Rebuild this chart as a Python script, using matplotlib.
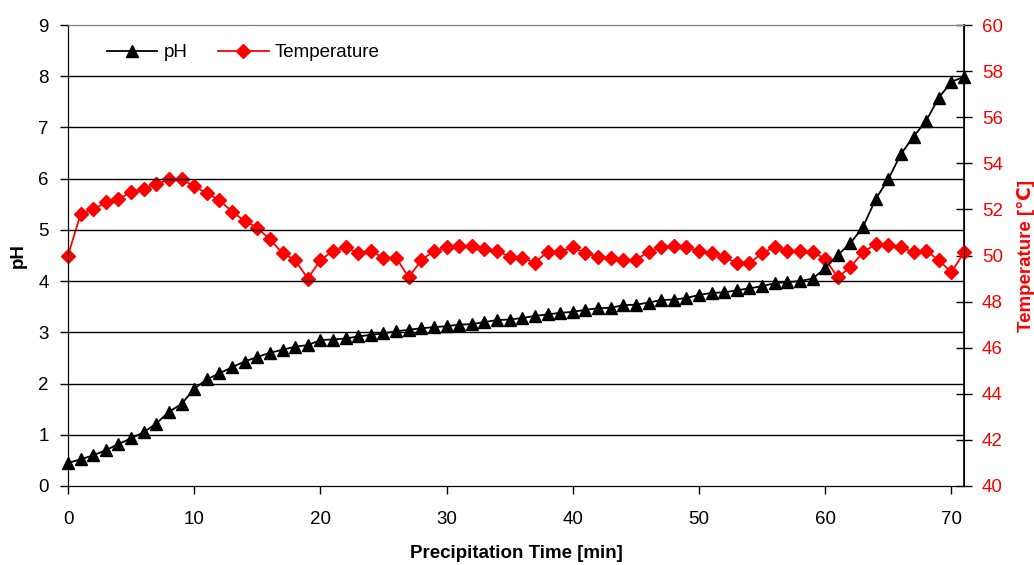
import matplotlib.pyplot as plt
import numpy as np

# ---------------- data ----------------
time_min = list(range(72))

ph = [0.45, 0.52, 0.60, 0.70, 0.82, 0.93, 1.05, 1.22, 1.45, 1.60,
      1.90, 2.08, 2.20, 2.32, 2.43, 2.52, 2.60, 2.66, 2.72, 2.75,
      2.85, 2.86, 2.88, 2.92, 2.95, 2.98, 3.02, 3.05, 3.08, 3.10,
      3.12, 3.15, 3.16, 3.20, 3.24, 3.25, 3.28, 3.32, 3.35, 3.38,
      3.40, 3.44, 3.47, 3.48, 3.53, 3.54, 3.58, 3.63, 3.64, 3.67,
      3.73, 3.77, 3.78, 3.82, 3.86, 3.90, 3.96, 3.98, 4.00, 4.05,
      4.25, 4.51, 4.74, 5.06, 5.60, 5.99, 6.48, 6.82, 7.13, 7.58,
      7.89, 7.99]

temperature = [50.0, 51.8, 52.0, 52.3, 52.45, 52.75, 52.9, 53.1, 53.3, 53.3,
               53.0, 52.7, 52.4, 51.9, 51.5, 51.2, 50.7, 50.1, 49.8, 49.0,
               49.8, 50.2, 50.35, 50.1, 50.2, 49.9, 49.9, 49.05, 49.8, 50.2,
               50.35, 50.4, 50.4, 50.3, 50.2, 49.95, 49.9, 49.68, 50.17, 50.17,
               50.35, 50.1, 49.95, 49.9, 49.8, 49.8, 50.17, 50.35, 50.43, 50.35,
               50.2, 50.1, 49.95, 49.66, 49.66, 50.1, 50.38, 50.2, 50.2, 50.15,
               49.85, 49.05, 49.5, 50.14, 50.5, 50.45, 50.35, 50.15, 50.2, 49.8,
               49.27, 50.14]

PH_TICKS = list(range(0, 10))
TEMP_TICKS = list(range(40, 61, 2))
X_TICKS = list(range(0, 71, 10))

# ---- global style settings ----
plt.rcParams["font.family"] = ["Liberation Sans", "DejaVu Sans"]
plt.rcParams["font.size"] = 13.5

fig = plt.figure(figsize=(10.34, 5.65), dpi=100)
ax = fig.add_axes([68 / 1034, 1 - 486 / 565, (964 - 68) / 1034, (486 - 25) / 565])
ax2 = ax.twinx()

# grid lines at each pH unit
for v in PH_TICKS[1:-1]:
    ax.axhline(v, color="black", linewidth=1.0, zorder=0)

l1, = ax.plot(time_min, ph, color="black", marker="^", markersize=8.5,
              linewidth=1.3, label="pH", zorder=3, clip_on=False)
l2, = ax2.plot(time_min, temperature, color="#ff0000", marker="D", markersize=7,
               linewidth=1.3, label="Temperature", zorder=3, clip_on=False)

ax.set_xlim(0, 71)
ax.set_ylim(0, 9)
ax2.set_ylim(40, 60)
ax.set_xticks(X_TICKS)
ax.set_yticks(PH_TICKS)
ax2.set_yticks(TEMP_TICKS)

ax.tick_params(axis="x", direction="out", length=6, width=1, colors="black",
               labelsize=13.5, pad=12)
ax.tick_params(axis="y", direction="out", length=6, width=1, colors="black",
               labelsize=13.5, pad=8)
ax2.tick_params(axis="y", direction="inout", length=12, width=1, color="black",
                labelcolor="#ff0000", labelsize=13.5, pad=7)

for s in ["left", "bottom"]:
    ax.spines[s].set_color("black")
ax.spines["top"].set_color("#808080")
ax2.spines["top"].set_color("#808080")
ax2.spines["right"].set_color("black")
ax2.spines["right"].set_linewidth(1.2)

ax.set_xlabel("Precipitation Time [min]", fontweight="bold", fontsize=13.5, labelpad=12)
ax.set_ylabel("pH", fontweight="bold", fontsize=13.5, labelpad=8)
ax2.set_ylabel("Temperature [℃]", fontweight="bold", fontsize=13.5, color="#ff0000", labelpad=10)

leg = ax.legend(handles=[l1, l2], loc="center left", ncol=2, frameon=False,
                bbox_to_anchor=(0.035, 0.94), handlelength=2.7, handletextpad=0.35,
                columnspacing=1.6, fontsize=13.5, borderaxespad=0)

ax.set_zorder(ax2.get_zorder() + 1)
ax.patch.set_visible(False)

fig.savefig("out.png", dpi=100)
